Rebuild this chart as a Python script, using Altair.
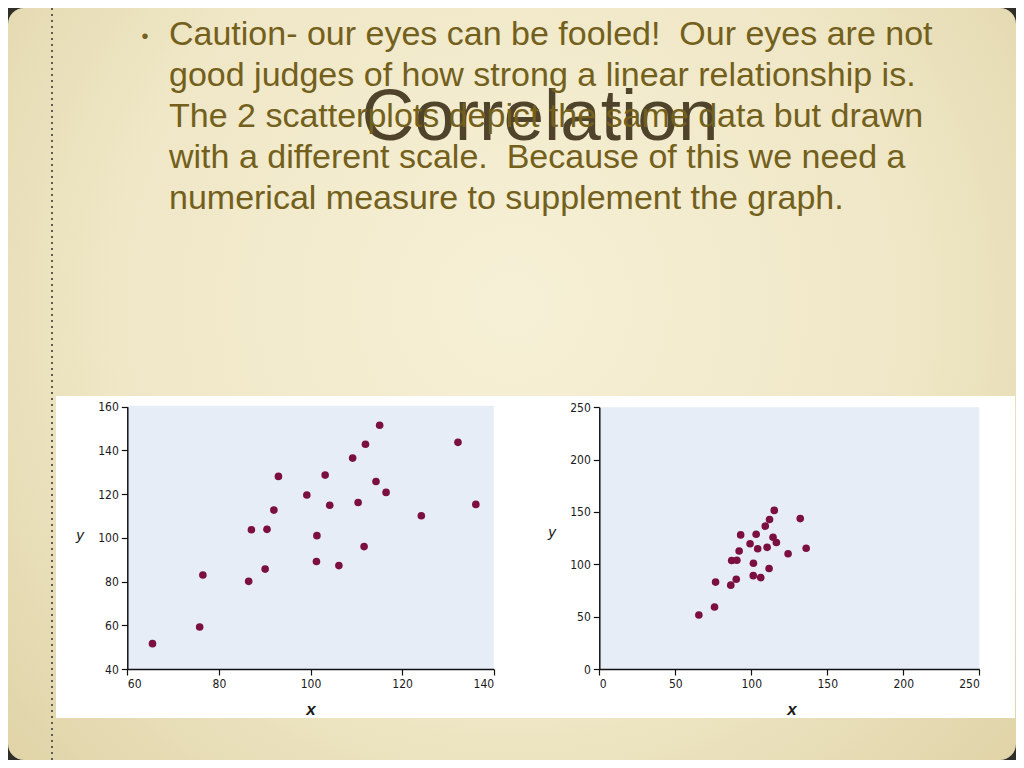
import altair as alt
import pandas as pd

# ---- data ----
X_VALUES = [65.5, 75.8, 76.5, 86.5, 87.1, 90.1, 90.5, 92.0, 93.0, 99.2, 101.3, 101.4, 103.2,
            104.2, 106.2, 109.2, 110.4, 111.7, 112.0, 114.3, 115.1, 116.5, 124.2, 132.2, 136.1]
Y_VALUES = [51.6, 59.2, 83.0, 80.1, 103.7, 85.7, 103.9, 112.7, 128.1, 119.6, 89.2, 101.0, 128.7,
            114.9, 87.3, 136.5, 116.2, 96.0, 142.8, 125.8, 151.5, 120.8, 110.1, 143.7, 115.3]

LEFT_X_TICKS = [60, 80, 100, 120, 140]
LEFT_Y_TICKS = [40, 60, 80, 100, 120, 140, 160]
RIGHT_TICKS = [0, 50, 100, 150, 200, 250]

TITLE = "Correlation"
BULLET = "\u2022"
BULLET_LINES = [
    "Caution- our eyes can be fooled!\u00a0 Our eyes are not",
    "good judges of how strong a linear relationship is.",
    "The 2 scatterplots depict the same data but drawn",
    "with a different scale.\u00a0 Because of this we need a",
    "numerical measure to supplement the graph.",
]
AXIS_X_TITLE = "x"
AXIS_Y_TITLE = "y"

# ---- layout ----
W, H = 1008, 752
POINT_COLOR = "#7b0f3f"
PANEL_FILL = "#e6edf7"
TEXT_COLOR = "#73601c"
TITLE_COLOR = "#50432c"
LABEL_FONT = "'DejaVu Sans Condensed', 'Liberation Sans', sans-serif"

points = pd.DataFrame({"x": X_VALUES, "y": Y_VALUES})
one = pd.DataFrame({"k": [0]})

bg = alt.Chart(one).mark_rect(
    cornerRadius=16,
    color=alt.RadialGradient(
        gradient="radial",
        x1=0.5, y1=0.42, r1=0.0,
        x2=0.5, y2=0.42, r2=0.72,
        stops=[alt.GradientStop(color="#f6f0d6", offset=0),
               alt.GradientStop(color="#efe7c6", offset=0.55),
               alt.GradientStop(color="#ddd0a2", offset=1)],
    ),
).encode(x=alt.value(0), x2=alt.value(W), y=alt.value(0), y2=alt.value(H))

dots = alt.Chart(one).mark_rule(color="#5e5c55", strokeDash=[2, 4], strokeWidth=2).encode(
    x=alt.value(44), y=alt.value(0), y2=alt.value(H))

white_box = alt.Chart(one).mark_rect(color="white").encode(
    x=alt.value(48), x2=alt.value(1007), y=alt.value(388), y2=alt.value(710))

panel_left = alt.Chart(one).mark_rect(color=PANEL_FILL).encode(
    x=alt.value(119.3), x2=alt.value(485.7), y=alt.value(397.7), y2=alt.value(661))
panel_right = alt.Chart(one).mark_rect(color=PANEL_FILL).encode(
    x=alt.value(591.3), x2=alt.value(971.3), y=alt.value(399.3), y2=alt.value(661))

title = alt.Chart(one).mark_text(
    text=TITLE, font="Liberation Sans", fontSize=73, color=TITLE_COLOR,
    align="center", baseline="alphabetic").encode(x=alt.value(532), y=alt.value(132))

bullet = alt.Chart(one).mark_text(
    text=BULLET, font="Liberation Sans", fontSize=20, color=TEXT_COLOR,
    align="center", baseline="middle").encode(x=alt.value(137), y=alt.value(29))

body = alt.Chart(one).mark_text(
    text=BULLET_LINES, font="Liberation Sans", fontSize=34, lineHeight=41, color=TEXT_COLOR,
    align="left", baseline="alphabetic").encode(x=alt.value(161), y=alt.value(37))


def axis_title(txt, x, y, bold):
    return alt.Chart(one).mark_text(
        text=txt, font="Liberation Sans", fontSize=17 if bold else 15,
        fontStyle="italic", fontWeight="bold" if bold else "normal", color="#1a1a1a",
        align="center", baseline="middle").encode(x=alt.value(x), y=alt.value(y))


titles = [
    axis_title(AXIS_Y_TITLE, 72, 527, False),
    axis_title(AXIS_X_TITLE, 303, 702, True),
    axis_title(AXIS_Y_TITLE, 544, 524, False),
    axis_title(AXIS_X_TITLE, 784, 702, True),
]

AX = dict(labelFont=LABEL_FONT, labelFontSize=12, labelColor="#1a1a1a",
          domainColor="#111111", tickColor="#111111", domainWidth=1.5, tickWidth=1.2,
          tickSize=6, labelPadding=3, grid=False, zindex=2)

left = alt.Chart(points).mark_circle(size=58, color=POINT_COLOR, opacity=1).encode(
    x=alt.X("x:Q", title=None,
            scale=alt.Scale(domain=[60, 140], range=[119.3, 485.7], nice=False, zero=False),
            axis=alt.Axis(orient="bottom", offset=-91, values=LEFT_X_TICKS, **AX)),
    y=alt.Y("y:Q", title=None,
            scale=alt.Scale(domain=[40, 160], range=[661, 398.7], nice=False, zero=False),
            axis=alt.Axis(orient="left", offset=-119.3, values=LEFT_Y_TICKS, **AX)),
)

right = alt.Chart(points).mark_circle(size=58, color=POINT_COLOR, opacity=1).encode(
    x=alt.X("x:Q", title=None,
            scale=alt.Scale(domain=[0, 250], range=[591.3, 971.3], nice=False, zero=False),
            axis=alt.Axis(orient="bottom", offset=-91, values=RIGHT_TICKS, **AX)),
    y=alt.Y("y:Q", title=None,
            scale=alt.Scale(domain=[0, 250], range=[661, 399.3], nice=False, zero=False),
            axis=alt.Axis(orient="left", offset=-591.3, values=RIGHT_TICKS, **AX)),
)

chart = alt.layer(
    bg, dots, white_box, panel_left, panel_right, title, bullet, body, *titles, left, right
).resolve_scale(x="independent", y="independent").properties(
    width=W, height=H, padding=0, autosize="none", background="#2f2e29"
).configure_view(strokeWidth=0)

chart.save("out.html", embed_options={"renderer": "svg", "actions": False})
